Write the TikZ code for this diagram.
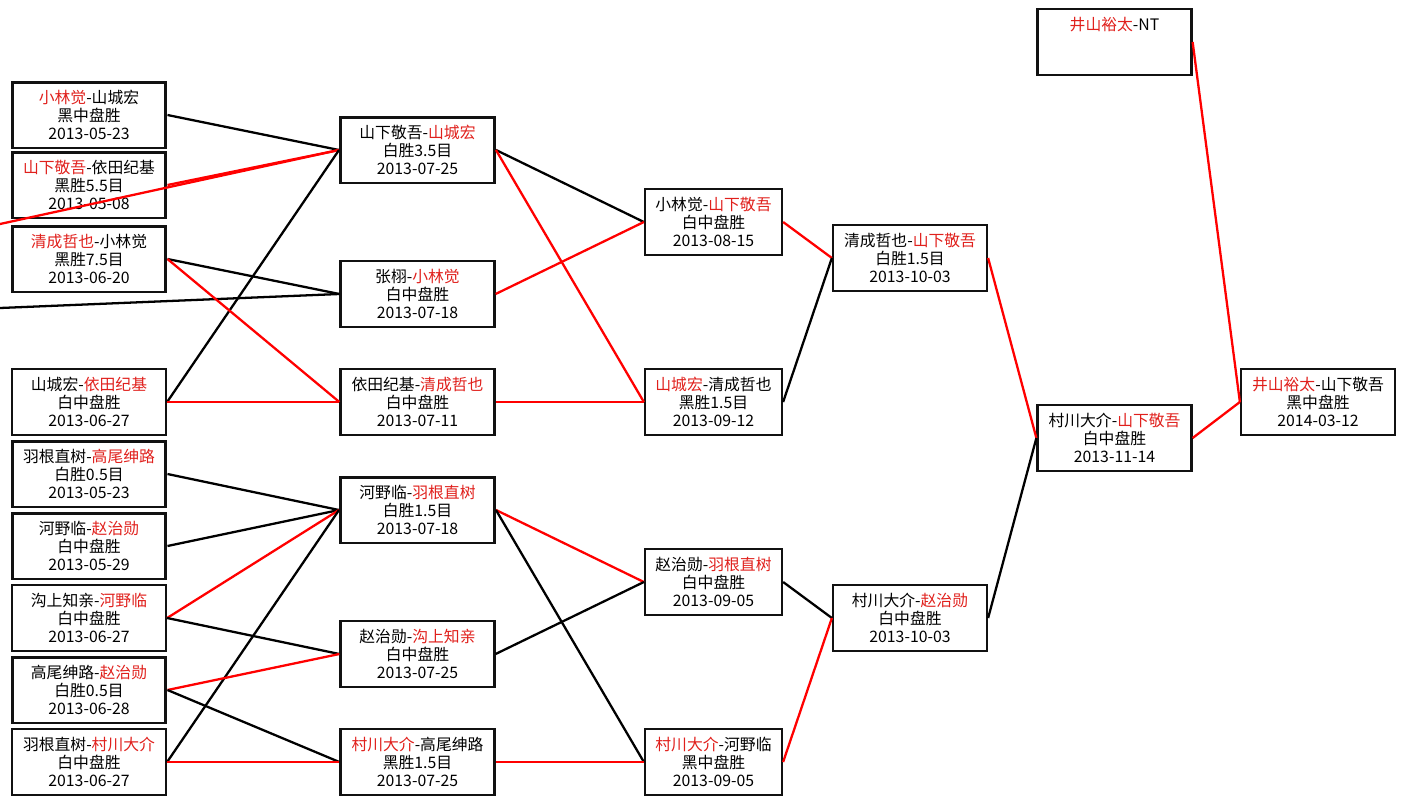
\documentclass[tikz,border=0pt]{standalone}
\usepackage{fontspec}
\setmainfont{Noto Sans CJK SC}
\definecolor{winred}{HTML}{E0201C}
\definecolor{edgered}{HTML}{FF0000}
\definecolor{boxline}{HTML}{111111}
\newcommand{\redname}[1]{\textcolor{winred}{#1}}

\begin{document}
\begin{tikzpicture}[
    x=0.02cm, y=-0.02cm,
    game/.style={draw=boxline, line width=1.3pt, minimum width=3.08cm, minimum height=1.32cm,
                 inner sep=0pt, align=center, font=\fontsize{9}{10.2}\selectfont},
    seed/.style={game, line width=1.7pt},
    narrow/.style={minimum width=2.74cm},
    win/.style={line width=1.3pt, edgered},
    loss/.style={line width=1.3pt, black},
  ]
  \useasboundingbox (0,0) rectangle (1406,805);

  % ── Round 1 ──
  \node[seed] (r1a) at (89,115) {\redname{小林觉}-山城宏\\黑中盘胜\\2013-05-23};
  \node[seed] (r1b) at (89,185) {\redname{山下敬吾}-依田纪基\\黑胜5.5目\\2013-05-08};
  \node[seed] (r1c) at (89,259) {\redname{清成哲也}-小林觉\\黑胜7.5目\\2013-06-20};
  \node[game] (r1d) at (89,402) {山城宏-\redname{依田纪基}\\白中盘胜\\2013-06-27};
  \node[seed] (r1e) at (89,474) {羽根直树-\redname{高尾绅路}\\白胜0.5目\\2013-05-23};
  \node[seed] (r1f) at (89,546) {河野临-\redname{赵治勋}\\白中盘胜\\2013-05-29};
  \node[game] (r1g) at (89,618) {沟上知亲-\redname{河野临}\\白中盘胜\\2013-06-27};
  \node[seed] (r1h) at (89,690) {高尾绅路-\redname{赵治勋}\\白胜0.5目\\2013-06-28};
  \node[game] (r1i) at (89,762) {羽根直树-\redname{村川大介}\\白中盘胜\\2013-06-27};

  % free ends coming in from the left
  \coordinate (in1) at (0,224);
  \coordinate (in2) at (0,308);

  % ── Round 2 ──
  \node[seed] (r2a) at (417.5,150) {山下敬吾-\redname{山城宏}\\白胜3.5目\\2013-07-25};
  \node[game] (r2b) at (417.5,294) {张栩-\redname{小林觉}\\白中盘胜\\2013-07-18};
  \node[game] (r2c) at (417.5,402) {依田纪基-\redname{清成哲也}\\白中盘胜\\2013-07-11};
  \node[seed] (r2d) at (417.5,510) {河野临-\redname{羽根直树}\\白胜1.5目\\2013-07-18};
  \node[game] (r2e) at (417.5,654) {赵治勋-\redname{沟上知亲}\\白中盘胜\\2013-07-25};
  \node[game] (r2f) at (417.5,762) {\redname{村川大介}-高尾绅路\\黑胜1.5目\\2013-07-25};

  % ── Round 3 ──
  \node[game, narrow] (r3a) at (713.5,222) {小林觉-\redname{山下敬吾}\\白中盘胜\\2013-08-15};
  \node[game, narrow] (r3b) at (713.5,402) {\redname{山城宏}-清成哲也\\黑胜1.5目\\2013-09-12};
  \node[game, narrow] (r3c) at (713.5,582) {赵治勋-\redname{羽根直树}\\白中盘胜\\2013-09-05};
  \node[game, narrow] (r3d) at (713.5,762) {\redname{村川大介}-河野临\\黑中盘胜\\2013-09-05};

  % ── Round 4 ──
  \node[game] (r4a) at (910,258) {清成哲也-\redname{山下敬吾}\\白胜1.5目\\2013-10-03};
  \node[game] (r4b) at (910,618) {村川大介-\redname{赵治勋}\\白中盘胜\\2013-10-03};

  % ── Semi and final ──
  \node[game] (semi) at (1114.5,438) {村川大介-\redname{山下敬吾}\\白中盘胜\\2013-11-14};
  \node[game] (seedtop) at (1114.5,42) {\redname{井山裕太}-NT\\\mbox{}\\\mbox{}};
  \node[game] (final) at (1318,402) {\redname{井山裕太}-山下敬吾\\黑中盘胜\\2014-03-12};

  % ── Round 1 → Round 2 ──
  \draw[loss] (r1a.east) -- (r2a.west);
  \draw[win] (r1b.east) -- (r2a.west);
  \draw[win] (in1) -- (r2a.west);
  \draw[loss] (r1d.east) -- (r2a.west);
  \draw[loss] (r1c.east) -- (r2b.west);
  \draw[loss] (in2) -- (r2b.west);
  \draw[win] (r1c.east) -- (r2c.west);
  \draw[win] (r1d.east) -- (r2c.west);
  \draw[loss] (r1e.east) -- (r2d.west);
  \draw[loss] (r1f.east) -- (r2d.west);
  \draw[win] (r1g.east) -- (r2d.west);
  \draw[loss] (r1i.east) -- (r2d.west);
  \draw[loss] (r1g.east) -- (r2e.west);
  \draw[win] (r1h.east) -- (r2e.west);
  \draw[loss] (r1h.east) -- (r2f.west);
  \draw[win] (r1i.east) -- (r2f.west);

  % ── Round 2 → Round 3 ──
  \draw[loss] (r2a.east) -- (r3a.west);
  \draw[win] (r2b.east) -- (r3a.west);
  \draw[win] (r2a.east) -- (r3b.west);
  \draw[win] (r2c.east) -- (r3b.west);
  \draw[win] (r2d.east) -- (r3c.west);
  \draw[loss] (r2e.east) -- (r3c.west);
  \draw[loss] (r2d.east) -- (r3d.west);
  \draw[win] (r2f.east) -- (r3d.west);

  % ── Round 3 → Round 4 ──
  \draw[win] (r3a.east) -- (r4a.west);
  \draw[loss] (r3b.east) -- (r4a.west);
  \draw[loss] (r3c.east) -- (r4b.west);
  \draw[win] (r3d.east) -- (r4b.west);

  % ── Round 4 → semi → final ──
  \draw[win] (r4a.east) -- (semi.west);
  \draw[loss] (r4b.east) -- (semi.west);
  \draw[win] (semi.east) -- (final.west);
  \draw[win] (seedtop.east) -- (final.west);

\end{tikzpicture}
\end{document}
